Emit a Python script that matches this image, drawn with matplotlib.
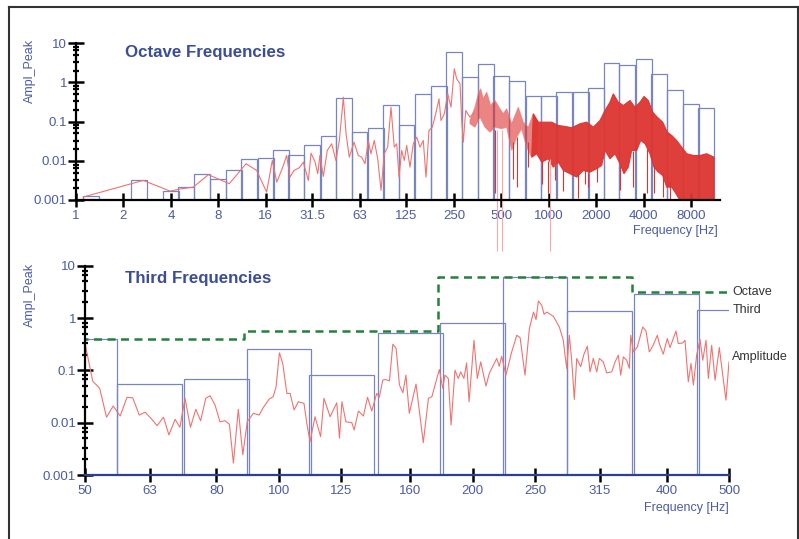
import matplotlib

matplotlib.use("Agg")
import matplotlib.pyplot as plt
import numpy as np
from matplotlib.lines import Line2D
from matplotlib.ticker import FixedLocator, FixedFormatter, NullLocator, NullFormatter

plt.rcParams["font.family"] = ["Liberation Sans", "DejaVu Sans"]

# third-octave band peak levels
third_centers = [1.25, 2.5, 4, 5, 6.3, 8, 10, 12.5, 16, 20,
                 25, 31.5, 40, 50, 63, 80, 100, 125, 160, 200,
                 250, 315, 400, 500, 630, 800, 1000, 1250, 1600, 2000,
                 2500, 3150, 4000, 5000, 6300, 8000, 10000]
third_levels = [0.00126, 0.0032, 0.0017, 0.0021, 0.0045, 0.0034, 0.0057, 0.011, 0.0115, 0.019,
                0.014, 0.026, 0.042, 0.40, 0.056, 0.067, 0.26, 0.08, 0.51, 0.80,
                6.0, 1.35, 2.9, 1.44, 1.09, 0.45, 0.45, 0.56, 0.56, 0.71,
                3.15, 2.75, 3.9, 1.62, 0.64, 0.28, 0.22]

# octave band peak levels
octave_centers = [63, 125, 250, 500]
octave_levels = [0.40, 0.57, 6.2, 3.2]

# full spectrum, sparse low-frequency part
spec_freq = [1.11, 2.67, 3.95, 4.69, 5.55, 6.91, 9.39, 12.0, 14.0, 16.2,
             17.6, 18.8, 20.7, 21.7, 22.8, 24.2, 26.1, 27.7, 29.8, 31.0,
             32.9, 34.2, 35.3, 37.1, 39.3, 41.9, 44.6, 46.9, 49.7, 51.7,
             54.2, 58.1, 61.8, 65.0, 68.2, 71.6, 74.4, 78.1, 82.1, 86.2,
             90.4, 95.0, 99.7, 104.6, 108.4, 112.1, 116.6, 121.1, 125.4, 131.6,
             138.1, 145.2, 152.3, 159.8, 166.3, 173.7, 182.3, 191.6, 201.1, 207.0,
             217.3, 228.3, 239.6, 251.4, 260.4, 273.3, 280.2, 286.8, 297.0, 316.2,
             336.8]
spec_amp = [0.00119, 0.00316, 0.00169, 0.00194, 0.00213, 0.00442, 0.00261, 0.00843, 0.00569, 0.00159,
            0.0102, 0.00286, 0.00763, 0.0137, 0.00384, 0.00569, 0.00667, 0.00927, 0.00316, 0.0157,
            0.00927, 0.00469, 0.0137, 0.0040, 0.0184, 0.0273, 0.0102, 0.0331, 0.422, 0.0491,
            0.0124, 0.030, 0.0137, 0.0124, 0.00843, 0.0331, 0.0152, 0.0331, 0.0113, 0.00176,
            0.0152, 0.0224, 0.234, 0.0224, 0.0273, 0.00384, 0.0184, 0.0102, 0.0247, 0.0069,
            0.0273, 0.0402, 0.0224, 0.0331, 0.00384, 0.0597, 0.0724, 0.159, 0.384, 0.107,
            0.159, 0.515, 0.234, 2.24, 1.24, 0.927, 0.107, 0.030, 0.193, 0.130,
            0.175]

# full spectrum, dense high-frequency part (upper / lower envelope)
dense_top_freq = [316.2, 340.2, 357.1, 369.8, 384.1, 403.6, 427.9, 455.6, 490.1, 514.3,
                  540.6, 581.8, 640.6, 688.9, 741.3, 797.6, 857.9, 946.0, 1043, 1149,
                  1267, 1397, 1578, 1740, 1916, 2113, 2273, 2445, 2567, 2761,
                  2970, 3275, 3524, 3791, 4018, 4279, 4563, 4881, 5282, 5648,
                  6024, 6479, 6970, 7499, 8259, 9109, 10040, 11175]
dense_top_amp = [0.107, 0.234, 0.515, 0.690, 0.384, 0.566, 0.259, 0.347, 0.213, 0.159,
                 0.213, 0.0883, 0.234, 0.0971, 0.0724, 0.159, 0.0971, 0.0971, 0.0971, 0.080,
                 0.0755, 0.0699, 0.0883, 0.0971, 0.0724, 0.107, 0.193, 0.314, 0.515, 0.314,
                 0.259, 0.347, 0.234, 0.314, 0.440, 0.347, 0.175, 0.130, 0.0971, 0.054,
                 0.0445, 0.0331, 0.0224, 0.0152, 0.0137, 0.0137, 0.0152, 0.0124]
dense_bot_freq = [316.2, 340.2, 365.9, 393.7, 423.6, 455.6, 502.4, 540.6, 581.8, 625.8,
                  673.0, 724.2, 779.0, 837.9, 901.4, 992.7, 1068, 1149, 1236, 1363,
                  1503, 1656, 1826, 2013, 2166, 2273, 2445, 2631, 2830, 3001,
                  3195, 3357, 3613, 3830, 4078, 4386, 4650, 4953, 5282, 5599,
                  6024, 6413, 6870, 11175]
dense_bot_amp = [0.0883, 0.0724, 0.130, 0.0724, 0.054, 0.0724, 0.0659, 0.0724, 0.0184, 0.0402,
                 0.0659, 0.0224, 0.0124, 0.0152, 0.00927, 0.0113, 0.0069, 0.00927, 0.00569, 0.00469,
                 0.00384, 0.00569, 0.00515, 0.00629, 0.00763, 0.0184, 0.0113, 0.0152, 0.00843, 0.00469,
                 0.0069, 0.0184, 0.0184, 0.0331, 0.0273, 0.0152, 0.0069, 0.00515, 0.00425, 0.00213,
                 0.00213, 0.00145, 0.0009, 0.0009]

# deep dips and tall spikes inside the dense part
dip_freq = [455, 590, 626, 741, 901, 985, 1095, 1236, 1539, 1700, 1781, 2013,
            2830, 3437, 4180, 4650, 5282, 5875]
dip_low = [0.0015, 0.0035, 0.0021, 0.0069, 0.0026, 0.0015, 0.0032, 0.0017, 0.0011, 0.0025, 0.0021, 0.0028,
           0.0018, 0.0021, 0.0015, 0.0015, 0.0012, 0.001]
dip_high = [0.06, 0.03, 0.04, 0.03, 0.01, 0.01, 0.008, 0.006, 0.005, 0.006, 0.005, 0.007,
            0.008, 0.018, 0.02, 0.008, 0.005, 0.003]
# dips that run below the plotted range
dropout_freq = [467, 505, 1018]
dropout_low = [5e-5, 5e-5, 5e-5]
dropout_high = [0.06, 0.06, 0.011]

# zoomed spectrum 50-500 Hz
detail_freq = [50.0, 51.4, 52.7, 54.0, 55.3, 56.7, 58.1, 59.3, 60.7, 62.0,
               63.5, 64.7, 66.2, 67.5, 69.0, 70.2, 71.5, 72.9, 74.3, 75.6,
               77.0, 78.2, 79.6, 81.0, 82.5, 83.8, 85.0, 86.5, 87.9, 89.3,
               91.3, 93.2, 94.4, 96.6, 98.0, 99.0, 100.2, 101.4, 102.9, 104.1,
               105.6, 107.2, 109.4, 110.5, 111.8, 113.8, 116.1, 117.5, 120.1, 123.0,
               124.2, 125.3, 127.1, 129.8, 130.9, 132.9, 135.3, 137.3, 139.4, 141.9,
               143.2, 145.0, 146.2, 148.5, 150.3, 152.1, 153.9, 155.8, 157.5, 159.4,
               163.3, 165.7, 167.6, 170.7, 172.8, 177.5, 179.7, 181.1, 183.3, 185.1,
               187.7, 189.9, 191.6, 193.8, 195.7, 197.4, 200.9, 203.3, 205.8, 209.7,
               212.2, 217.9, 219.9, 221.8, 225.2, 229.9, 234.1, 236.9, 241.1, 244.9,
               248.5, 250.8, 252.9, 256.0, 258.1, 260.6, 266.8, 272.6, 276.5, 278.2,
               279.9, 282.5, 284.9, 287.6, 290.1, 294.2, 297.7, 301.3, 304.2, 307.8,
               311.6, 314.5, 319.0, 322.9, 328.8, 332.7, 336.6, 339.5, 342.7, 346.8,
               350.1, 351.9, 355.2, 360.3, 367.3, 371.6, 376.0, 380.6, 387.0, 389.7,
               395.3, 401.0, 404.9, 413.7, 417.1, 423.7, 427.2, 432.3, 436.5, 440.2,
               445.4, 450.8, 455.2, 460.6, 464.4, 470.0, 475.7, 483.0, 488.9, 494.6,
               500.0]
detail_amp = [0.33, 0.0622, 0.0452, 0.0127, 0.0208, 0.0134, 0.0305, 0.0299, 0.0140, 0.0158,
              0.0116, 0.00877, 0.0127, 0.00583, 0.0116, 0.00817, 0.0292, 0.00817, 0.0180, 0.0109,
              0.0292, 0.0327, 0.0217, 0.0104, 0.0109, 0.0093, 0.00169, 0.0180, 0.00243, 0.0104,
              0.0151, 0.0140, 0.0188, 0.0283, 0.0313, 0.0485, 0.216, 0.135, 0.0363, 0.0363,
              0.0175, 0.0251, 0.0234, 0.00975, 0.00435, 0.0130, 0.00541, 0.0292, 0.0130, 0.0240,
              0.00505, 0.0251, 0.0104, 0.0100, 0.00726, 0.0167, 0.0134, 0.0305, 0.0167, 0.0363,
              0.0305, 0.0650, 0.0670, 0.0631, 0.315, 0.261, 0.0523, 0.0373, 0.0810, 0.0151,
              0.0546, 0.0130, 0.00416, 0.0292, 0.0313, 0.104, 0.0452, 0.0810, 0.0701, 0.00904,
              0.101, 0.0701, 0.0936, 0.0701, 0.139, 0.0251, 0.376, 0.0701, 0.145, 0.0500,
              0.0873, 0.169, 0.120, 0.186, 0.0810, 0.225, 0.468, 0.423, 0.0810, 0.628,
              1.30, 0.932, 2.11, 1.75, 1.18, 1.30, 1.08, 0.674, 0.376, 0.195,
              0.109, 0.468, 0.156, 0.0279, 0.169, 0.117, 0.204, 0.289, 0.0936, 0.169,
              0.0936, 0.169, 0.145, 0.0896, 0.0936, 0.145, 0.195, 0.0810, 0.181, 0.156,
              0.109, 0.468, 0.225, 0.280, 0.674, 0.565, 0.225, 0.289, 0.468, 0.325,
              0.204, 0.405, 0.273, 0.565, 0.325, 0.334, 0.376, 0.0604, 0.135, 0.0523,
              0.195, 0.388, 0.156, 0.376, 0.0701, 0.302, 0.0650, 0.273, 0.0810, 0.0270,
              0.145]

octave_ticks = [1, 2, 4, 8, 16, 31.5, 63, 125, 250, 500, 1000, 2000, 4000, 8000]
octave_tick_labels = ["1", "2", "4", "8", "16", "31.5", "63", "125", "250", "500",
                      "1000", "2000", "4000", "8000"]
third_ticks = [50, 63, 80, 100, 125, 160, 200, 250, 315, 400, 500]
third_tick_labels = ["50", "63", "80", "100", "125", "160", "200", "250", "315", "400", "500"]
amp_ticks = [0.001, 0.01, 0.1, 1, 10]
amp_tick_labels = ["0.001", "0.01", "0.1", "1", "10"]

W, H = 799, 539
LABEL_BLUE = "#4b5ba6"
TITLE_BLUE = "#3a4d96"
BAR_EDGE = "#7886c0"
RED_LINE = "#ee7470"
RED_FILL = "#de3430"
GREEN = "#23813a"


def style_axis(ax, xticks, xlabels, bottom_color):
    ax.set_xscale("log")
    ax.set_yscale("log")
    ax.set_ylim(0.001, 10)
    for side in ("top", "right"):
        ax.spines[side].set_visible(False)
    ax.spines["left"].set_linewidth(1.6)
    ax.spines["left"].set_color("black")
    ax.spines["bottom"].set_linewidth(1.6)
    ax.spines["bottom"].set_color(bottom_color)
    ax.spines["left"].set_zorder(5)
    ax.spines["bottom"].set_zorder(5)

    ax.xaxis.set_major_locator(FixedLocator(xticks))
    ax.xaxis.set_major_formatter(FixedFormatter(xlabels))
    ax.xaxis.set_minor_locator(NullLocator())
    ax.yaxis.set_major_locator(FixedLocator(amp_ticks))
    ax.yaxis.set_major_formatter(FixedFormatter(amp_tick_labels))
    minor = [d * s for d in (0.001, 0.01, 0.1, 1) for s in (2, 3.3, 5, 6.7, 8)]
    ax.yaxis.set_minor_locator(FixedLocator(minor))
    ax.yaxis.set_minor_formatter(NullFormatter())

    ax.tick_params(axis="x", which="major", direction="inout", length=10, width=1.8,
                   color="black", labelsize=9.5, labelcolor=LABEL_BLUE, pad=2)
    ax.tick_params(axis="y", which="major", direction="inout", length=11, width=1.8,
                   color="black", labelsize=9.5, labelcolor=LABEL_BLUE, pad=1)
    ax.tick_params(axis="y", which="minor", direction="inout", length=5, width=1.6,
                   color="black")
    ax.patch.set_alpha(0)


def band_bars(ax, centers, levels):
    centers = np.asarray(centers, dtype=float)
    lo = centers * 2 ** (-1 / 6)
    hi = centers * 2 ** (1 / 6)
    ax.bar(lo, np.asarray(levels) - 0.001, width=hi - lo, bottom=0.001, align="edge",
           fill=False, edgecolor=BAR_EDGE, linewidth=0.9, zorder=2)


def envelope_fill(ax, fmin, fmax, **kw):
    top_f = np.asarray(dense_top_freq, dtype=float)
    top_a = np.asarray(dense_top_amp)
    bot_f = np.asarray(dense_bot_freq, dtype=float)
    bot_a = np.asarray(dense_bot_amp)
    tm = (top_f >= fmin) & (top_f <= fmax)
    bm = (bot_f >= fmin) & (bot_f <= fmax)
    xs = np.concatenate([top_f[tm], bot_f[bm][::-1]])
    ys = np.concatenate([top_a[tm], bot_a[bm][::-1]])
    ax.fill(xs, ys, **kw)


fig = plt.figure(figsize=(W / 100, H / 100), dpi=100)

# page frame
frame_kw = dict(transform=fig.transFigure, color="#333333", linewidth=1.5)
fig.add_artist(Line2D([8.7 / W, 8.7 / W], [0, 1 - 6.7 / H], **frame_kw))
fig.add_artist(Line2D([8.7 / W, 798 / W], [1 - 6.7 / H, 1 - 6.7 / H], **frame_kw))
fig.add_artist(Line2D([798 / W, 798 / W], [0, 1 - 6.7 / H], **frame_kw))

# ---- upper panel: full spectrum with third-octave bands
ax1 = fig.add_axes([76 / W, 1 - 200 / H, 644 / W, 156.7 / H])
style_axis(ax1, octave_ticks, octave_tick_labels, "black")
ax1.set_xlim(1, 12200)
band_bars(ax1, third_centers, third_levels)
envelope_fill(ax1, 300, 860, color=RED_FILL, alpha=0.6, linewidth=0.8,
              edgecolor=RED_LINE, zorder=3)
envelope_fill(ax1, 770, 12000, color=RED_FILL, alpha=0.95, linewidth=0.8,
              edgecolor=RED_FILL, zorder=3)
ax1.vlines(dip_freq, dip_low, dip_high, color=RED_FILL, linewidth=0.8, zorder=3)
ax1.vlines(dropout_freq, dropout_low, dropout_high, color="#f5aaa8", linewidth=0.8,
           zorder=3, clip_on=False)
ax1.plot(spec_freq, spec_amp, color=RED_LINE, linewidth=0.8, zorder=3)

fig.text(125 / W, 1 - 52 / H, "Octave Frequencies", fontsize=12.2, fontweight="bold",
         color=TITLE_BLUE, va="center", ha="left")
fig.text(30 / W, 1 - 39 / H, "Ampl_Peak", rotation=90, fontsize=9, color=LABEL_BLUE,
         va="top", ha="center")
fig.text(718 / W, 1 - 231 / H, "Frequency [Hz]", fontsize=9, color=LABEL_BLUE,
         va="center", ha="right")

# ---- lower panel: 50-500 Hz with third and octave bands
ax2 = fig.add_axes([85 / W, 1 - 475 / H, 644 / W, 209.3 / H])
style_axis(ax2, third_ticks, third_tick_labels, "#2c3f98")
ax2.set_xlim(50, 500)
band_bars(ax2, third_centers, third_levels)
oct_c = np.asarray(octave_centers, dtype=float)
oct_edges = list(oct_c / np.sqrt(2)) + [oct_c[-1] * np.sqrt(2)]
ax2.step(oct_edges, list(octave_levels) + [octave_levels[-1]], where="post",
         color=GREEN, linewidth=1.8, linestyle=(0, (3.2, 2.2)), zorder=4)
ax2.plot(detail_freq, detail_amp, color=RED_LINE, linewidth=0.8, zorder=3)

end_tr = ax2.get_yaxis_transform()
ax2.text(1.005, octave_levels[-1], "Octave", transform=end_tr, fontsize=9,
         color="#333333", va="center", ha="left", clip_on=False)
ax2.text(1.005, third_levels[third_centers.index(500)], "Third", transform=end_tr,
         fontsize=9, color="#333333", va="center", ha="left", clip_on=False)
ax2.text(1.005, 0.18, "Amplitude", transform=end_tr, fontsize=9,
         color="#333333", va="center", ha="left", clip_on=False)

fig.text(125 / W, 1 - 278 / H, "Third Frequencies", fontsize=12.2, fontweight="bold",
         color=TITLE_BLUE, va="center", ha="left")
fig.text(30 / W, 1 - 263 / H, "Ampl_Peak", rotation=90, fontsize=9, color=LABEL_BLUE,
         va="top", ha="center")
fig.text(729 / W, 1 - 508 / H, "Frequency [Hz]", fontsize=9, color=LABEL_BLUE,
         va="center", ha="right")

fig.savefig("out.png", dpi=100)
plt.close(fig)
